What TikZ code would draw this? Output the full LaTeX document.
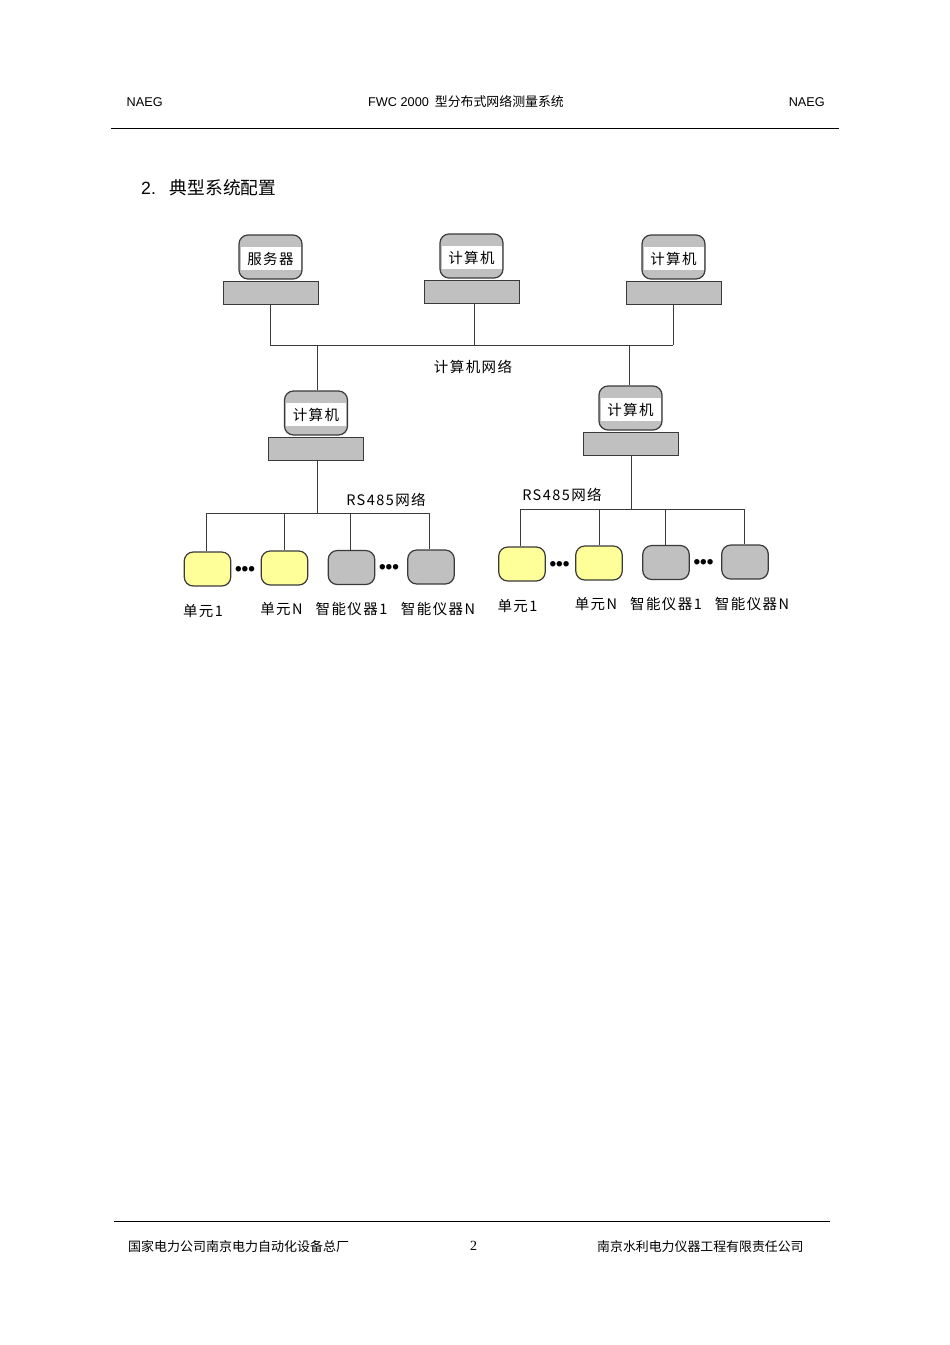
\documentclass[tikz,border=0pt]{standalone}
\usepackage{fontspec}
\setmainfont{Liberation Sans}
\newfontfamily\cjk{Noto Sans CJK SC}
\newfontfamily\cjkwide{Noto Sans CJK SC}[LetterSpace=10]
\newfontfamily\numserif{Liberation Serif}
\usepackage{xcolor}
\usepackage{tikz}
\definecolor{boxgray}{HTML}{C0C0C0}
\definecolor{unityellow}{HTML}{FFFF99}
\definecolor{linegray}{HTML}{3A3A3A}
\tikzstyle{monitor} = [rectangle, rounded corners=9pt, minimum width=63pt, minimum height=44pt, draw=linegray, line width=1.2pt, fill=boxgray]
\tikzstyle{screen} = [rectangle, minimum width=60pt, minimum height=23pt, inner sep=0pt, yshift=-1.5pt, fill=white, font=\fontsize{14.5}{15}\cjkwide]
\tikzstyle{base} = [rectangle, minimum width=95pt, minimum height=23pt, draw=linegray, line width=1pt, fill=boxgray]
\tikzstyle{unit} = [rectangle, rounded corners=9pt, minimum width=46.5pt, minimum height=34pt, draw=linegray, line width=1.2pt, fill=unityellow]
\tikzstyle{meter} = [rectangle, rounded corners=9pt, minimum width=46.5pt, minimum height=34pt, draw=linegray, line width=1.2pt, fill=boxgray]
\tikzstyle{caption} = [inner sep=0pt, font=\fontsize{14.5}{15}\cjkwide]
\tikzstyle{dots} = [inner sep=0pt, yshift=-3pt, font=\fontsize{19}{20}\bfseries]
\tikzstyle{link} = [line width=1pt, draw=linegray]
\tikzstyle{head} = [inner sep=0pt, font=\fontsize{12.7}{14}\selectfont]
\tikzstyle{rule} = [line width=1pt, draw=black]

\begin{document}
\begin{tikzpicture}[x=1pt,y=-1pt,node distance=35.5pt]
            \useasboundingbox (0,0) rectangle (950,1345);
            % page head
            \node (headL) [head, anchor=west] at (126.5,102) {NAEG};
            \node (headM) [head, anchor=west] at (368,102) {FWC 2000\hspace{6pt}{\fontsize{12.9}{15}\cjk 型分布式网络测量系统}};
            \node (headR) [head, anchor=east] at (825,102) {NAEG};
            \coordinate (headruleL) at (111,128);
            \coordinate (headruleR) at (839,128);
            \draw [rule] (headruleL) -- (headruleR);
            \node (title) [inner sep=0pt, anchor=west, font=\fontsize{17.7}{18}\selectfont] at (141,188) {2.\hspace{14pt}{\cjk 典型系统配置}};

            % upper computers
            \node (srv) [monitor] at (270.5,257) {};
            \node (srvtext) [screen] at (srv) {服务器};
            \node (srvbase) [base, below of=srv] {};
            \node (pcA) [monitor] at (471.5,256) {};
            \node (pcAtext) [screen] at (pcA) {计算机};
            \node (pcAbase) [base, below of=pcA] {};
            \node (pcB) [monitor] at (673.5,257) {};
            \node (pcBtext) [screen] at (pcB) {计算机};
            \node (pcBbase) [base, below of=pcB] {};
            \node (netlabel) [caption] at (473,367) {计算机网络};

            % lower computers
            \node (pcL) [monitor] at (316,413) {};
            \node (pcLtext) [screen] at (pcL) {计算机};
            \node (pcLbase) [base, below of=pcL] {};
            \node (pcR) [monitor] at (630.5,408) {};
            \node (pcRtext) [screen] at (pcR) {计算机};
            \node (pcRbase) [base, below of=pcR] {};

            % network lines
            \coordinate (busA) at (270,345);
            \coordinate (busB) at (474,345);
            \coordinate (busC) at (673,345);
            \coordinate (busL) at (317,345);
            \coordinate (busR) at (629,345);
            \draw [link] (busA) -- (busC);
            \draw [link] (busA |- srvbase.south) -- (busA);
            \draw [link] (busB |- pcAbase.south) -- (busB);
            \draw [link] (busC |- pcBbase.south) -- (busC);
            \draw [link] (busL) -- (busL |- pcL.north);
            \draw [link] (busR) -- (busR |- pcR.north);

            % left group
            \node (rsL) [caption] at (386,500) {RS485网络};
            \node (unitLa) [unit] at (207.5,569) {};
            \node (unitLb) [unit] at (284.5,568) {};
            \node (meterLa) [meter] at (351.5,567.5) {};
            \node (meterLb) [meter] at (431,567) {};
            \node (dotsLa) [dots] at (245,568) {•••};
            \node (dotsLb) [dots] at (389,566) {•••};
            \node (capLa) [caption, below of=unitLa, yshift=-7pt, xshift=-4.5pt] {单元1};
            \node (capLb) [caption, below of=unitLb, yshift=-6pt, xshift=-3pt] {单元N};
            \node (capLc) [caption, below of=meterLa, yshift=-6pt] {智能仪器1};
            \node (capLd) [caption, below of=meterLb, yshift=-6pt, xshift=7pt] {智能仪器N};
            \coordinate (trunkL) at (317,513.5);
            \coordinate (dropLa) at (206,513.5);
            \coordinate (dropLb) at (284.5,513.5);
            \coordinate (dropLc) at (350.5,513.5);
            \coordinate (dropLd) at (429.5,513.5);
            \draw [link] (dropLa) -- (dropLd);
            \draw [link] (trunkL |- pcLbase.south) -- (trunkL);
            \draw [link] (dropLa) -- (dropLa |- unitLa.north);
            \draw [link] (dropLb) -- (unitLb.north);
            \draw [link] (dropLc) -- (dropLc |- meterLa.north);
            \draw [link] (dropLd) -- (dropLd |- meterLb.north);

            % right group
            \node (rsR) [caption] at (562,495) {RS485网络};
            \node (unitRa) [unit] at (522,564) {};
            \node (unitRb) [unit] at (599,563) {};
            \node (meterRa) [meter] at (666,562.5) {};
            \node (meterRb) [meter] at (745,562) {};
            \node (dotsRa) [dots] at (559.5,563) {•••};
            \node (dotsRb) [dots] at (703.5,561) {•••};
            \node (capRa) [caption, below of=unitRa, yshift=-7pt, xshift=-4.5pt] {单元1};
            \node (capRb) [caption, below of=unitRb, yshift=-6pt, xshift=-3pt] {单元N};
            \node (capRc) [caption, below of=meterRa, yshift=-6pt] {智能仪器1};
            \node (capRd) [caption, below of=meterRb, yshift=-6pt, xshift=7pt] {智能仪器N};
            \coordinate (trunkR) at (631,509);
            \coordinate (dropRa) at (520.5,509);
            \coordinate (dropRb) at (599,509);
            \coordinate (dropRc) at (665,509);
            \coordinate (dropRd) at (744,509);
            \draw [link] (dropRa) -- (dropRd);
            \draw [link] (trunkR |- pcRbase.south) -- (trunkR);
            \draw [link] (dropRa) -- (dropRa |- unitRa.north);
            \draw [link] (dropRb) -- (unitRb.north);
            \draw [link] (dropRc) -- (dropRc |- meterRa.north);
            \draw [link] (dropRd) -- (dropRd |- meterRb.north);

            % page foot
            \coordinate (footruleL) at (114,1221);
            \coordinate (footruleR) at (830,1221);
            \draw [rule] (footruleL) -- (footruleR);
            \node (footL) [head, anchor=west, font=\fontsize{13}{14}\cjk] at (128,1246.5) {国家电力公司南京电力自动化设备总厂};
            \node (footM) [head, font=\fontsize{14}{14}\numserif] at (473.5,1246) {2};
            \node (footR) [head, anchor=west, font=\fontsize{12.9}{14}\cjk] at (597,1246.5) {南京水利电力仪器工程有限责任公司};
        \end{tikzpicture}
\end{document}
